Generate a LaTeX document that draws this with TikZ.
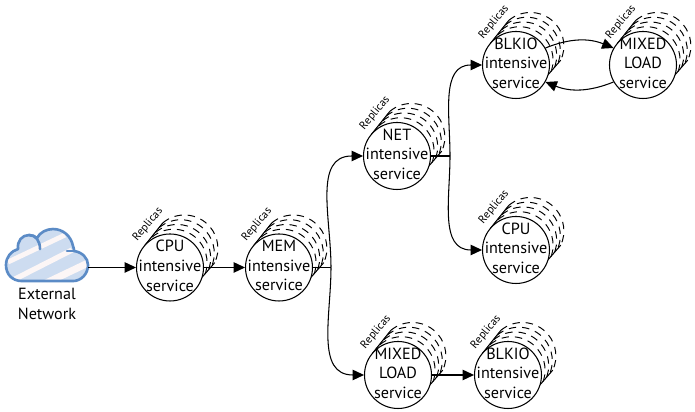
\documentclass[tikz,border=0pt]{standalone}
\usepackage{fontspec}
\setmainfont{PT Sans}
\usetikzlibrary{calc,positioning,arrows.meta}
\definecolor{cloudline}{HTML}{5B8BC6}
\definecolor{cloudfill}{HTML}{CDDCF0}
\definecolor{cloudband}{HTML}{FCF6F6}
\tikzset{
	svc/.style={draw=black, fill=white, circle, inner sep=0pt, minimum size=1.34cm, line width=0.6pt},
	svctext/.style={align=center, font=\fontsize{9.2}{11.2}\selectfont, inner sep=0pt},
	repltext/.style={rotate=50, font=\fontsize{6.4}{7}\selectfont, inner sep=0pt},
	replarc/.style={black, line width=0.55pt, dash pattern=on 4.2pt off 3.4pt},
	conn/.style={black, line width=0.6pt, -{Triangle[length=6.5pt,width=6pt]}},
	plain/.style={black, line width=0.6pt}
}
% one service with its stack of replicas
\newcommand{\replnode}[3]{
	\foreach \k in {1,...,4}{
		\draw[replarc] ($(#2)+(\k*0.072,\k*0.095)+(130:0.67)$) arc[start angle=130, end angle=-25, radius=0.67];
	}
	\draw[plain] ($(#2)+(140:0.67)$) -- ($(#2)+(0.288,0.38)+(130:0.67)$);
	\draw[plain] ($(#2)+(-17:0.67)$) -- ($(#2)+(0.288,0.38)+(-25:0.67)$);
	\node[svc] (#1) at (#2) {};
	\node[svctext, yshift=1pt] (#1txt) at (#1) {#3};
	\node[repltext] (#1rep) at ($(#1)+(-0.44,0.86)$) {Replicas};
}
\begin{document}
\begin{tikzpicture}
	\useasboundingbox (0,0) rectangle (13.9,8.24);
	% cloud, px coordinates
	\node (cloud) at (0.94,2.89) [minimum width=1.64cm, minimum height=0.6cm, inner sep=0pt] {};
	\begin{scope}[x=0.02cm, y=-0.02cm, yshift=8.24cm]
		\def\cloudpath{(22,281) .. controls (12,281) and (6,274) .. (6,265) .. controls (6,257) and (11,251) .. (18,249) .. controls (17,241) and (22,235) .. (29,235) .. controls (32,235) and (35,236) .. (37,238) .. controls (40,232) and (47,229) .. (53,229) .. controls (63,229) and (71,236) .. (73,246) .. controls (74,248) and (74,250) .. (74,251) .. controls (82,252) and (88,258) .. (88,265) .. controls (88,274) and (81,281) .. (73,281) -- cycle}
		\begin{scope}
			\clip \cloudpath;
			\fill[cloudfill] (0,225) rectangle (95,285);
			\draw[cloudband, line width=2.8pt] (8,262) -- (65,235);
			\draw[cloudband, line width=3pt] (15,279) -- (72,250);
			\draw[cloudband, line width=4pt] (46,283) -- (90,262);
		\end{scope}
		\draw[cloudline, line width=1.5pt, line join=round] \cloudpath;
		\draw[cloudline, line width=1.5pt, line cap=round] (29,235) .. controls (36,235) and (40,241) .. (40,249);
		\draw[cloudline, line width=1.5pt, line cap=round] (67,251) -- (74,251);
	\end{scope}
	\node[svctext, below=3pt of cloud] (extnet) {External\\Network};
	% services
	\replnode{cpuA}{3.40,2.89}{CPU\\intensive\\service}
	\replnode{memA}{5.58,2.89}{MEM\\intensive\\service}
	\replnode{netA}{7.94,5.12}{NET\\intensive\\service}
	\replnode{blkioA}{10.32,6.94}{BLKIO\\intensive\\service}
	\replnode{mixedA}{12.86,6.94}{MIXED\\LOAD\\service}
	\replnode{cpuB}{10.32,3.24}{CPU\\intensive\\service}
	\replnode{mixedB}{7.96,0.74}{MIXED\\LOAD\\service}
	\replnode{blkioB}{10.16,0.74}{BLKIO\\intensive\\service}
	% connectors
	\coordinate (memjoin) at (6.62,2.89);
	\coordinate (netjoin) at (9.0,5.12);
	\draw[conn] (cloud.east) -- (cpuA.west);
	\draw[conn] (cpuA.east) -- (memA.west);
	\draw[plain] (memA.east) -- (memjoin);
	\draw[conn] (memjoin) to[out=90, in=180, looseness=1.1] (netA.west);
	\draw[conn] (memjoin) to[out=-90, in=180, looseness=1.1] (mixedB.west);
	\draw[plain] (netA.east) -- (netjoin);
	\draw[conn] (netjoin) to[out=90, in=180, looseness=1.1] (blkioA.west);
	\draw[conn] (netjoin) to[out=-90, in=180, looseness=1.1] (cpuB.west);
	\draw[conn] (blkioA.30) to[bend left=22] (mixedA.150);
	\draw[conn] (mixedA.210) to[bend left=22] (blkioA.-30);
	\draw[conn] (mixedB.east) -- (blkioB.west);
\end{tikzpicture}
\end{document}
